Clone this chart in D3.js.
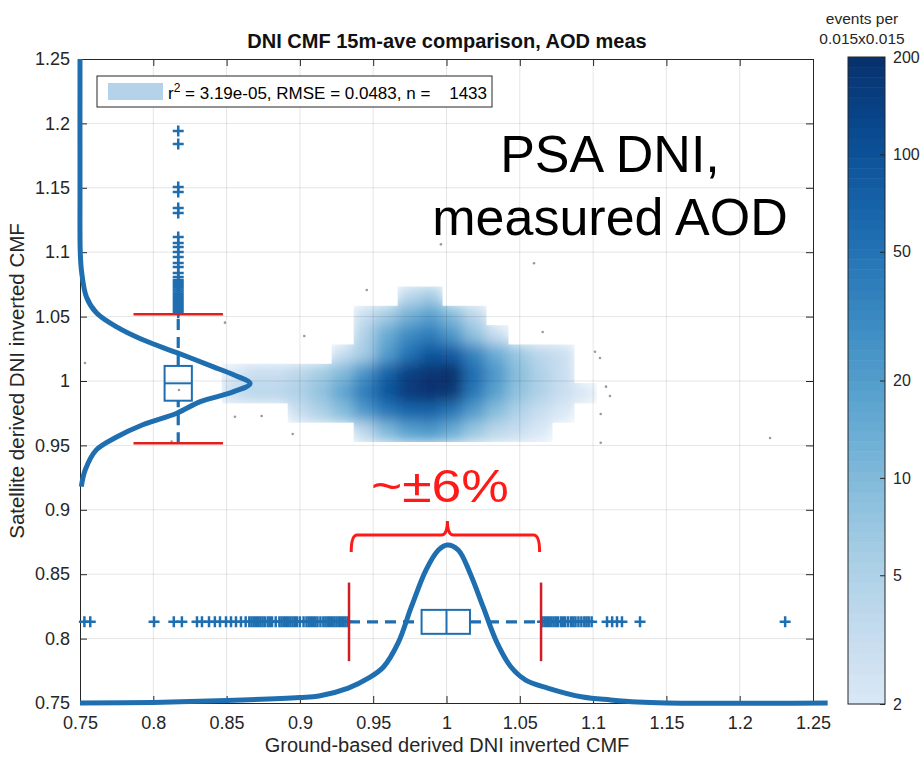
<!DOCTYPE html>
<html>
<head>
<meta charset="utf-8">
<script src="https://cdn.jsdelivr.net/npm/d3@7"></script>
<style>
body { margin: 0; background: #fff; }
text { font-family: "Liberation Sans", Arial, Helvetica, sans-serif; }
</style>
</head>
<body>
<svg id="chart" width="921" height="758"></svg>
<script>
var xTicks = [0.75, 0.8, 0.85, 0.9, 0.95, 1, 1.05, 1.1, 1.15, 1.2, 1.25];
var yTicks = [0.75, 0.8, 0.85, 0.9, 0.95, 1, 1.05, 1.1, 1.15, 1.2, 1.25];
var cbarTicks = [2, 5, 10, 20, 50, 100, 200];

// 2D histogram, bins of 0.015 x 0.015 (null = no events)
var histColEdges = [0.847, 0.862, 0.877, 0.892, 0.907, 0.922, 0.937, 0.952, 0.967, 0.982, 0.997, 1.012, 1.027, 1.042, 1.057, 1.072, 1.087, 1.102];
var histRowEdges = [1.073, 1.058, 1.043, 1.028, 1.013, 0.998, 0.983, 0.968, 0.953];
var histCounts = [
  [null, null, null, null, null, null, null, null, 4, 6, null, null, null, null, null, null, null],
  [null, null, null, null, null, null, 3, 6, 12, 18, 10, 4, null, null, null, null, null],
  [null, null, null, null, null, null, 5, 14, 30, 40, 22, 8, 3, null, null, null, null],
  [null, null, null, null, null, 3, 6, 20, 50, 90, 80, 35, 14, 7, 4, 3, null],
  [2, 3, 3, 4, 6, 10, 25, 70, 140, 180, 200, 55, 22, 9, 5, 3, null],
  [3, 4, 4, 5, 8, 16, 40, 90, 160, 190, 170, 45, 18, 8, 5, 3, 2],
  [null, null, null, 3, 5, 9, 22, 45, 65, 70, 45, 20, 9, 5, 3, 2, null],
  [null, null, null, null, null, null, 4, 10, 18, 22, 14, 7, 4, 3, 2, null, null]
];

// isolated events outside the binned area
var strayX = [0.9456, 0.8489, 0.9030, 1.0656, 1.1013, 1.1047, 0.8557, 0.8739, 0.8951, 1.1088, 1.1115, 1.1052, 1.1052, 0.9962, 1.0597, 0.7534, 0.8175, 0.8125, 1.2207];
var strayY = [1.0707, 1.0453, 1.0349, 1.0380, 1.0227, 1.0179, 0.9723, 0.9728, 0.9589, 0.9956, 0.9884, 0.9744, 0.9521, 1.1061, 1.0914, 1.0140, 0.9930, 0.9529, 0.9557];

// kernel density of satellite CMF (drawn along y)
var satKdeY = [1.25, 1.15, 1.10, 1.085, 1.065, 1.053, 1.042, 1.032, 1.022, 1.011, 1.005, 0.998, 0.9915, 0.984, 0.975, 0.966, 0.9565, 0.9465, 0.931, 0.918];
var satKdeDens = [0, 0, 0.02, 0.12, 0.5, 1.25, 2.8, 4.8, 7.4, 10.2, 11.7, 13.0, 11.7, 9.2, 7.4, 4.8, 2.8, 1.25, 0.4, 0.1];

// kernel density of ground CMF (drawn along x)
var gndKdeX = [0.75, 0.80, 0.85, 0.90, 0.913, 0.933, 0.947, 0.957, 0.967, 0.976, 0.986, 0.9945, 1.0006, 1.008, 1.016, 1.025, 1.0345, 1.044, 1.054, 1.069, 1.093, 1.112, 1.13, 1.15, 1.26];
var gndKdeDens = [0, 0.05, 0.2, 0.45, 0.58, 1.23, 2.06, 2.96, 4.94, 7.9, 10.94, 12.59, 13.0, 12.59, 10.7, 7.9, 4.94, 2.96, 1.89, 1.23, 0.49, 0.25, 0.08, 0, 0];

// box plot of ground CMF (horizontal)
var gndBox = {q1: 0.983, median: 1.0, q3: 1.016, lo: 0.9335, hi: 1.0645};
var gndOutliers = [0.753, 0.757, 0.8005, 0.814, 0.8195, 0.8298, 0.8332, 0.838, 0.842, 0.8455, 0.8496, 0.853, 0.8564, 0.8598, 0.863,
  0.8655, 0.867, 0.8685, 0.870, 0.8715, 0.873, 0.8745, 0.876, 0.878, 0.8795, 0.881, 0.8835, 0.886, 0.8875, 0.889, 0.8905,
  0.892, 0.8935, 0.895, 0.8965, 0.898, 0.900, 0.9025, 0.9045, 0.906, 0.9075, 0.909, 0.9105, 0.912, 0.914, 0.916, 0.9175,
  0.919, 0.9205, 0.922, 0.9235, 0.925, 0.9265, 0.928, 0.9295, 0.931, 0.9325,
  1.0655, 1.067, 1.0685, 1.070, 1.0715, 1.073, 1.0745, 1.076, 1.078, 1.0795, 1.081, 1.083, 1.085, 1.0865, 1.088, 1.090,
  1.092, 1.094, 1.0955, 1.097, 1.099, 1.1095, 1.113, 1.1163, 1.1197, 1.132, 1.231];

// box plot of satellite CMF (vertical)
var satBox = {q1: 0.9847, median: 0.9982, q3: 1.0117, lo: 0.9516, hi: 1.0519};
var satOutliers = [1.1941, 1.184, 1.1506, 1.1467, 1.1343, 1.1304, 1.1118, 1.1071, 1.104, 1.1002, 1.0963, 1.0916, 1.0885, 1.0839, 1.0807,
  1.0784, 1.077, 1.0755, 1.074, 1.0725, 1.071, 1.0695, 1.068, 1.0665, 1.065, 1.0635, 1.062, 1.0605, 1.059, 1.0575, 1.056, 1.0545, 1.053];

var legendText = "r2 = 3.19e-05, RMSE = 0.0483, n = 1433";

var blue = "#1f6fb0";
var ink = "#262626";

var svg = d3.select("#chart");
var x = d3.scaleLinear().domain([0.75, 1.25]).range([80, 813]);
var y = d3.scaleLinear().domain([0.75, 1.25]).range([703, 59]);
var color = d3.scaleSequentialLog(function(t) { return d3.interpolateBlues(0.15 + 0.85 * t); }).domain([2, 200]);

var defs = svg.append("defs");
var blur = defs.append("filter").attr("id", "soft")
  .attr("x", "-20%").attr("y", "-20%").attr("width", "140%").attr("height", "140%");
blur.append("feGaussianBlur").attr("stdDeviation", 7);

// histogram cells
var cells = [];
histCounts.forEach(function(row, r) {
  row.forEach(function(c, k) {
    if (c !== null) cells.push({x0: histColEdges[k], x1: histColEdges[k + 1], y0: histRowEdges[r + 1], y1: histRowEdges[r], count: c});
  });
});

var clip = defs.append("clipPath").attr("id", "histClip");
clip.selectAll("rect").data(cells).enter().append("rect")
  .attr("x", function(d) { return x(d.x0) - 0.5; })
  .attr("y", function(d) { return y(d.y1) - 0.5; })
  .attr("width", function(d) { return x(d.x1) - x(d.x0) + 1; })
  .attr("height", function(d) { return y(d.y0) - y(d.y1) + 1; });

svg.append("g").attr("clip-path", "url(#histClip)")
  .append("g").attr("filter", "url(#soft)")
  .selectAll("rect").data(cells).enter().append("rect")
  .attr("x", function(d) { return x(d.x0) - 1; })
  .attr("y", function(d) { return y(d.y1) - 1; })
  .attr("width", function(d) { return x(d.x1) - x(d.x0) + 2; })
  .attr("height", function(d) { return y(d.y0) - y(d.y1) + 2; })
  .attr("fill", function(d) { return color(d.count); });

// grid
var grid = svg.append("g").attr("stroke", "#000").attr("stroke-opacity", 0.1);
grid.selectAll("line.gx").data(xTicks.slice(1, -1)).enter().append("line")
  .attr("x1", function(d) { return x(d); }).attr("x2", function(d) { return x(d); })
  .attr("y1", y(0.75)).attr("y2", y(1.25));
grid.selectAll("line.gy").data(yTicks.slice(1, -1)).enter().append("line")
  .attr("y1", function(d) { return y(d); }).attr("y2", function(d) { return y(d); })
  .attr("x1", x(0.75)).attr("x2", x(1.25));

// axes
function styleAxis(g) {
  g.select(".domain").attr("stroke", ink);
  g.selectAll(".tick line").attr("stroke", ink);
  g.selectAll(".tick text").attr("fill", ink).attr("font-size", 18);
}
svg.append("g").attr("transform", "translate(0," + y(0.75) + ")")
  .call(d3.axisBottom(x).tickValues(xTicks).tickFormat(d3.format("")).tickSizeInner(-7).tickSizeOuter(0).tickPadding(13))
  .call(styleAxis);
svg.append("g").attr("transform", "translate(" + x(0.75) + ",0)")
  .call(d3.axisLeft(y).tickValues(yTicks).tickFormat(d3.format("")).tickSizeInner(-7).tickSizeOuter(0).tickPadding(10))
  .call(styleAxis);
svg.append("g").attr("transform", "translate(0," + y(1.25) + ")")
  .call(d3.axisTop(x).tickValues(xTicks).tickFormat("").tickSizeInner(-7).tickSizeOuter(0))
  .call(styleAxis);
svg.append("g").attr("transform", "translate(" + x(1.25) + ",0)")
  .call(d3.axisRight(y).tickValues(yTicks).tickFormat("").tickSizeInner(-7).tickSizeOuter(0))
  .call(styleAxis);

// stray points
svg.append("g").selectAll("circle").data(strayX).enter().append("circle")
  .attr("cx", function(d) { return x(d); })
  .attr("cy", function(d, i) { return y(strayY[i]); })
  .attr("r", 1.3).attr("fill", "#9a9a9a");

// density curves
var satDens = d3.scaleLinear().domain([0, 13]).range([0.75, 0.866]);
var gndDens = d3.scaleLinear().domain([0, 13]).range([0.75, 0.8727]);
var satLine = d3.line()
  .x(function(d, i) { return x(satDens(satKdeDens[i])); })
  .y(function(d) { return y(d); })
  .curve(d3.curveCatmullRom);
var gndLine = d3.line()
  .x(function(d) { return x(d); })
  .y(function(d, i) { return y(gndDens(gndKdeDens[i])); })
  .curve(d3.curveCatmullRom);
svg.append("path").attr("d", satLine(satKdeY)).attr("fill", "none").attr("stroke", blue).attr("stroke-width", 5);
svg.append("path").attr("d", gndLine(gndKdeX)).attr("fill", "none").attr("stroke", blue).attr("stroke-width", 5);

// box plots
var plus = "M-5.5,0H5.5M0,-5.5V5.5";
var gndRow = 0.813, satCol = 0.817, boxHalf = 0.0093, capHalf = 0.0305;

var hb = svg.append("g");
hb.append("line").attr("x1", x(gndBox.lo)).attr("x2", x(gndBox.q1)).attr("y1", y(gndRow)).attr("y2", y(gndRow))
  .attr("stroke", blue).attr("stroke-width", 3.2).attr("stroke-dasharray", "11,7");
hb.append("line").attr("x1", x(gndBox.q3)).attr("x2", x(gndBox.hi)).attr("y1", y(gndRow)).attr("y2", y(gndRow))
  .attr("stroke", blue).attr("stroke-width", 3.2).attr("stroke-dasharray", "11,7");
hb.append("rect").attr("x", x(gndBox.q1)).attr("y", y(gndRow + boxHalf))
  .attr("width", x(gndBox.q3) - x(gndBox.q1)).attr("height", y(gndRow - boxHalf) - y(gndRow + boxHalf))
  .attr("fill", "none").attr("stroke", blue).attr("stroke-width", 2);
hb.append("line").attr("x1", x(gndBox.median)).attr("x2", x(gndBox.median))
  .attr("y1", y(gndRow + boxHalf)).attr("y2", y(gndRow - boxHalf)).attr("stroke", blue).attr("stroke-width", 2);
hb.selectAll("path").data(gndOutliers).enter().append("path")
  .attr("d", plus).attr("transform", function(d) { return "translate(" + x(d) + "," + y(gndRow) + ")"; })
  .attr("stroke", blue).attr("stroke-width", 2.5).attr("fill", "none");
hb.selectAll("line.cap").data([gndBox.lo, gndBox.hi]).enter().append("line")
  .attr("x1", function(d) { return x(d); }).attr("x2", function(d) { return x(d); })
  .attr("y1", y(gndRow + capHalf)).attr("y2", y(gndRow - capHalf))
  .attr("stroke", "#cc1f26").attr("stroke-width", 2.5);

var vb = svg.append("g");
vb.append("line").attr("y1", y(satBox.lo)).attr("y2", y(satBox.q1)).attr("x1", x(satCol)).attr("x2", x(satCol))
  .attr("stroke", blue).attr("stroke-width", 3.2).attr("stroke-dasharray", "11,7");
vb.append("line").attr("y1", y(satBox.q3)).attr("y2", y(satBox.hi)).attr("x1", x(satCol)).attr("x2", x(satCol))
  .attr("stroke", blue).attr("stroke-width", 3.2).attr("stroke-dasharray", "11,7");
vb.append("rect").attr("x", x(satCol - boxHalf)).attr("y", y(satBox.q3))
  .attr("width", x(satCol + boxHalf) - x(satCol - boxHalf)).attr("height", y(satBox.q1) - y(satBox.q3))
  .attr("fill", "none").attr("stroke", blue).attr("stroke-width", 2);
vb.append("line").attr("y1", y(satBox.median)).attr("y2", y(satBox.median))
  .attr("x1", x(satCol - boxHalf)).attr("x2", x(satCol + boxHalf)).attr("stroke", blue).attr("stroke-width", 2);
vb.selectAll("path").data(satOutliers).enter().append("path")
  .attr("d", plus).attr("transform", function(d) { return "translate(" + x(satCol) + "," + y(d) + ")"; })
  .attr("stroke", blue).attr("stroke-width", 2.5).attr("fill", "none");
vb.selectAll("line.cap").data([satBox.lo, satBox.hi]).enter().append("line")
  .attr("y1", function(d) { return y(d); }).attr("y2", function(d) { return y(d); })
  .attr("x1", x(satCol - capHalf)).attr("x2", x(satCol + capHalf))
  .attr("stroke", "#e0201c").attr("stroke-width", 2.5);

// bracket annotation
var bx0 = x(0.935), bx1 = x(1.0635), bxc = x(1.0006);
var by = y(0.8804), byTip = y(0.8672), byNotch = y(0.8913), rr = 6;
var bp = d3.path();
bp.moveTo(bx0, byTip);
bp.quadraticCurveTo(bx0, by, bx0 + rr, by);
bp.lineTo(bxc - rr, by);
bp.quadraticCurveTo(bxc, by, bxc, byNotch);
bp.quadraticCurveTo(bxc, by, bxc + rr, by);
bp.lineTo(bx1 - rr, by);
bp.quadraticCurveTo(bx1, by, bx1, byTip);
svg.append("path").attr("d", bp.toString()).attr("fill", "none").attr("stroke", "#ff1a1a").attr("stroke-width", 3);
svg.append("text").attr("x", x(0.9955)).attr("y", y(0.9057)).attr("text-anchor", "middle")
  .attr("font-size", 47).attr("fill", "#ff1a1a").attr("textLength", 138).attr("lengthAdjust", "spacingAndGlyphs")
  .text("~\u00b16%");

// big label
var big = svg.append("text").attr("text-anchor", "middle").attr("font-size", 52).attr("fill", "#000");
big.append("tspan").attr("x", 610).attr("y", 172).text("PSA DNI,");
big.append("tspan").attr("x", 610).attr("y", 235).text("measured AOD");

// legend
var lg = svg.append("g");
lg.append("rect").attr("x", 97).attr("y", 76).attr("width", 395).attr("height", 31)
  .attr("fill", "#fff").attr("stroke", ink).attr("stroke-width", 1);
lg.append("rect").attr("x", 108).attr("y", 83).attr("width", 55).attr("height", 17).attr("fill", "#b4d2ea");
var parts = legendText.split(" = ");
var lt = lg.append("text").attr("x", 168).attr("y", 99).attr("font-size", 17).attr("fill", "#000");
lt.append("tspan").text("r");
lt.append("tspan").attr("dy", -7).attr("font-size", 12).text("2");
lt.append("tspan").attr("dy", 7).text(" = " + parts[1] + " = " + parts[2] + " = ");
lg.append("text").attr("x", 487).attr("y", 99).attr("text-anchor", "end").attr("font-size", 17).attr("fill", "#000")
  .text(parts[3]);

// titles
svg.append("text").attr("x", 447).attr("y", 48).attr("text-anchor", "middle").attr("font-size", 20)
  .attr("font-weight", "bold").attr("fill", "#111").text("DNI CMF 15m-ave comparison, AOD meas");
svg.append("text").attr("x", 447).attr("y", 752).attr("text-anchor", "middle").attr("font-size", 20)
  .attr("fill", ink).text("Ground-based derived DNI inverted CMF");
svg.append("text").attr("transform", "translate(24,381) rotate(-90)").attr("text-anchor", "middle")
  .attr("font-size", 20.5).attr("fill", ink).text("Satellite derived DNI inverted CMF");

// colorbar
var cbY = d3.scaleLog().domain([2, 200]).range([704, 57]);
var cbSteps = d3.range(64);
var cb = svg.append("g");
cb.selectAll("rect").data(cbSteps).enter().append("rect")
  .attr("x", 848).attr("width", 37)
  .attr("y", function(i) { return cbY(2 * Math.pow(100, (i + 1) / 64)); })
  .attr("height", function(i) { return cbY(2 * Math.pow(100, i / 64)) - cbY(2 * Math.pow(100, (i + 1) / 64)) + 0.5; })
  .attr("fill", function(i) { return color(2 * Math.pow(100, (i + 0.5) / 64)); });
cb.append("rect").attr("x", 848).attr("y", 57).attr("width", 37).attr("height", 647)
  .attr("fill", "none").attr("stroke", ink).attr("stroke-width", 1);
var cbAxis = svg.append("g").attr("transform", "translate(885,0)")
  .call(d3.axisRight(cbY).tickValues(cbarTicks).tickFormat(d3.format("d")).tickSizeInner(-5).tickSizeOuter(0).tickPadding(8));
cbAxis.select(".domain").remove();
cbAxis.selectAll(".tick line").attr("stroke", ink);
cbAxis.selectAll(".tick text").attr("fill", ink).attr("font-size", 16);
var cbt = svg.append("text").attr("text-anchor", "middle").attr("font-size", 15.5).attr("fill", ink);
cbt.append("tspan").attr("x", 862).attr("y", 24).text("events per");
cbt.append("tspan").attr("x", 862).attr("y", 44).text("0.015x0.015");
</script>
</body>
</html>
